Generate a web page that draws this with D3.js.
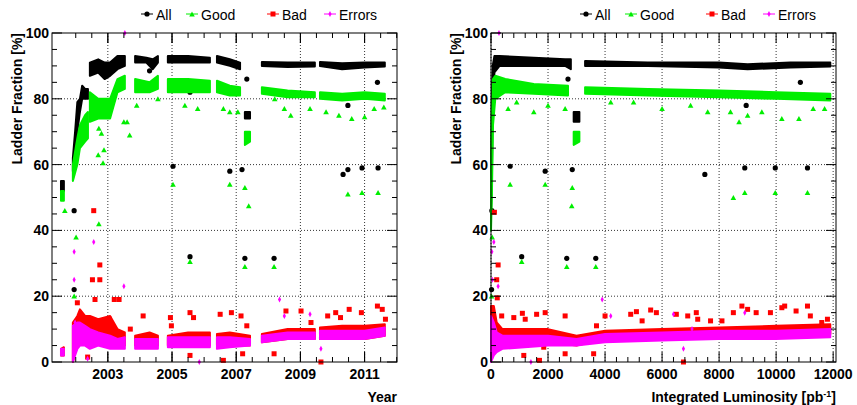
<!DOCTYPE html>
<html><head><meta charset="utf-8">
<script src="https://cdn.jsdelivr.net/npm/d3@7.9.0/dist/d3.min.js"></script>
<style>body{margin:0;background:#fff}text{font-family:"Liberation Sans",Arial,sans-serif;font-weight:bold}text.leg{font-weight:normal}</style>
</head><body><svg id="c" width="857" height="405"></svg>
<script>
// ---- data: dense bands [x, lo, hi] per run, plus isolated points [x, y]
const yearAll = [
  [[2001.54,52,55],[2001.63,52,55]],
  [[2001.91,58,62],[2001.98,60,70],[2002.05,70,79],[2002.13,76,80],[2002.2,80,84],[2002.29,80,83],[2002.38,80,83]],
  [[2002.44,87,91],[2002.7,88,92],[2002.9,86,91],[2003.07,87,91],[2003.3,89,93],[2003.53,90,93]],
  [[2003.85,91,93],[2004.2,91,92.5],[2004.4,89,92],[2004.56,91,93]],
  [[2004.87,91,93],[2005.5,91,93],[2006.18,91,92.5]],
  [[2006.4,91,93],[2006.8,90,92],[2007.12,89,91]],
  [[2007.27,74,76],[2007.43,74,76]],
  [[2007.8,90,91.2],[2008.6,89.7,91],[2009.45,89.8,91]],
  [[2009.61,90,91.2],[2010.3,89,90.8],[2011,89.5,91],[2011.63,89.8,91]]
];
const yearGood = [
  [[2001.54,49,52],[2001.63,49,52]],
  [[2001.91,55,60],[2002.05,60,68],[2002.13,65,72],[2002.29,67,75],[2002.38,68,76]],
  [[2002.44,73,82],[2002.7,74,80],[2003.07,74,80],[2003.3,82,86],[2003.53,83,87]],
  [[2003.85,82,86],[2004.3,82,85],[2004.56,83,87]],
  [[2004.87,82,86],[2005.5,82,86],[2006.18,82,85.5]],
  [[2006.4,82,85.5],[2006.8,81,84],[2007.12,81,83.5]],
  [[2007.27,66,70],[2007.43,67,70]],
  [[2007.8,81.5,83.5],[2008.6,80.5,82.5],[2009.45,80.5,82]],
  [[2009.61,80,82],[2010.3,79.5,81.5],[2011,80,82],[2011.63,79.5,81.5]]
];
const yearBad = [
  [[2001.54,2,4],[2001.63,2,4.5]],
  [[2001.91,0,12],[2002.05,6,14],[2002.13,8,16],[2002.29,9,14],[2002.44,8,14],[2002.7,7,13],[2003.07,6,14],[2003.3,5,10],[2003.53,5,9]],
  [[2003.85,5,8],[2004.3,5,9],[2004.56,5,8]],
  [[2004.87,5,8],[2005.5,5,9],[2006.18,5,9]],
  [[2006.4,5,8.5],[2006.8,5,9],[2007.43,5,8]],
  [[2007.8,6,8.5],[2008.6,7,10],[2009.45,7,10]],
  [[2009.61,7,10.5],[2010.3,7,11],[2011,7,11],[2011.63,8,11.5]]
];
const yearErr = [
  [[2001.54,2,4],[2001.63,2,4]],
  [[2001.91,0,11],[2002.05,4,12],[2002.13,5,12],[2002.29,5,11],[2002.44,4,10],[2002.7,5,9],[2003.07,4,8],[2003.3,4,7],[2003.53,4,7.5]],
  [[2003.85,4,7],[2004.3,4,7],[2004.56,4,7]],
  [[2004.87,4.5,7.5],[2005.5,4.5,7.5],[2006.18,4.5,7.5]],
  [[2006.4,4,7.5],[2006.8,4.5,7.5],[2007.43,5,7]],
  [[2007.8,6,8],[2008.6,7,9],[2009.45,7,9]],
  [[2009.61,7,9.5],[2010.3,7,9.5],[2011,7,9.5],[2011.63,8,10.5]]
];
const yearAllPts = [[2001.95,46],[2001.95,22],[2005.03,59.5],[2006.8,58],[2007.18,58.5],[2010.33,57],[2010.48,58.5],[2010.92,59],[2011.42,59],[2011.4,85],[2005.56,82],[2007.33,86],[2010.48,78],[2005.56,32],[2007.27,31.5],[2008.18,31.5],[2004.3,88.5]];
const yearGoodPts = [[2005.03,54],[2006.8,54],[2007.27,53],[2010.92,51.5],[2011.42,51.5],[2010.48,51],[2005.56,30.5],[2007.27,29],[2008.18,29],[2007.39,47.5],[2003.5,73],[2003.6,73],[2003.68,69],[2002.85,60.5],[2002.7,63],[2002.88,64.5],[2002.72,71],[2002.8,69.5],[2001.95,20],[2002.01,38],[2001.66,46],[2002.72,42],[2003.9,78],[2004.56,80],[2005.4,78],[2005.8,77],[2006.6,77],[2006.8,76],[2007.05,76],[2008.2,80],[2008.5,77],[2008.7,75],[2009.3,77],[2009.8,76],[2010.2,75],[2010.6,74],[2011,74.5],[2011.3,77],[2011.6,77.5]];
const yearBadPts = [[2002.56,46],[2002.52,25],[2002.75,29.5],[2002.75,25],[2002.6,19],[2003.2,19],[2003.35,19],[2004.1,14],[2004.95,13.5],[2004.98,11],[2005.56,15],[2005.67,13.5],[2005.56,2],[2006.5,14.5],[2006.85,15],[2007.15,14],[2007.2,2.5],[2007.33,11],[2008.18,2.5],[2008.55,15.5],[2009.02,15.5],[2009.33,12],[2009.85,14],[2010.1,15],[2010.52,16],[2010.9,15],[2011.4,17],[2011.55,16],[2011.65,13],[2009.64,0],[2010.25,13.5],[2002.37,1.5],[2006.6,0.5],[2002.05,18],[2003.05,13],[2003.7,10]];
const yearErrPts = [[2003.53,100],[2001.95,33.5],[2001.95,25],[2002.56,36.5],[2003.5,23],[2008.35,19],[2009.3,14.5],[2008.5,14],[2009.64,4],[2005.85,0],[2002.37,1],[2001.98,12]];

const lumAll = [
  [[0,45,60],[30,55,80],[60,80,90],[120,88,93],[300,90,93],[1500,90,92.5],[2600,90,92],[2800,89,92]],
  [[2900,73,76],[3100,73,76]],
  [[3300,90,91.5],[5500,90,91],[8000,89.5,91],[9000,89,90.5],[10500,89.5,91],[11900,89.8,91]]
];
const lumGood = [
  [[0,40,55],[30,50,75],[70,72,86],[150,80,87],[500,82,86],[1500,81.5,84.5],[2700,81,84]],
  [[2900,66,70],[3100,67,70]],
  [[3300,81.5,83.5],[5500,81,83],[8000,80.5,82.5],[10000,80,82],[11900,79.5,81.5]]
];
const lumBad = [
  [[0,3,17],[100,6,17],[200,6,12],[400,6,10],[2000,6,10],[3000,5,8],[4000,7,9.5],[6000,7.5,10],[8000,8,10.5],[10000,8,11],[11900,8.5,11.5]]
];
const lumErr = [
  [[0,0,14],[100,2,12],[200,3,9],[400,4,8],[2000,5,8],[3000,5,7],[4000,6,8.5],[6000,6.5,9],[8000,7,9.5],[10000,7,9.5],[11900,7.5,10]]
];
const lumAllPts = [[1077,32],[2657,31.5],[3675,31.5],[670,59.5],[1900,58],[2850,58.5],[7500,57],[8900,59],[9970,59],[11100,59],[10850,85],[2700,86],[8950,78],[1800,82],[20,22],[30,46]];
const lumGoodPts = [[1077,30.5],[2657,29],[3675,29],[2832,47.5],[670,54],[1900,54],[2850,53],[8900,51.5],[9970,51.5],[11100,51.5],[8500,50],[600,77],[900,79],[1500,76],[2000,78],[2600,77],[4200,79],[5000,79],[6000,77],[7000,78],[7600,76],[8400,76],[8700,73],[9000,75],[9500,76],[10200,74],[10800,74],[11300,77],[11700,77],[20,20],[40,38]];
const lumBadPts = [[375,14],[800,13.5],[1100,14.8],[1200,13],[1600,14.5],[1900,15],[2600,14],[3700,11],[4000,14],[4900,14.5],[5100,15.3],[5300,12.5],[5600,15.8],[5800,15],[6500,14.5],[6900,14],[7200,15],[7250,13],[7700,12.5],[8100,12.5],[8500,15],[8800,17],[9000,16],[9300,15],[9800,15],[10200,16.5],[10300,17],[10700,15.5],[11100,17],[11200,14],[11600,12],[11800,13],[1150,2],[2600,2.5],[3600,2.5],[6750,0],[1700,0.5],[1850,4.5],[250,29.5],[200,25],[220,19.5],[120,45.5]];
const lumErrPts = [[30,33.5],[100,36.5],[250,23],[3900,19],[4200,14],[6400,14.5],[6750,4],[1400,0],[7050,10],[8900,15],[50,25],[280,100]];

const legendNames = ['All', 'Good', 'Bad', 'Errors'];
const colors = ['#000000', '#00ee00', '#ff0000', '#ff00ff'];

const svg = d3.select('#c');
const y = d3.scaleLinear().domain([0, 100]).range([362, 33]);

function marker(g, kind, x0, y0, col) {
  if (kind === 0) g.append('circle').attr('cx', x0).attr('cy', y0).attr('r', 2.6).attr('fill', col);
  else if (kind === 1) g.append('path').attr('d', `M${x0-2.8},${y0+2.4}L${x0+2.8},${y0+2.4}L${x0},${y0-2.6}Z`).attr('fill', col);
  else if (kind === 2) g.append('rect').attr('x', x0-2.5).attr('y', y0-2.5).attr('width', 5).attr('height', 5).attr('fill', col);
  else g.append('path').attr('d', `M${x0},${y0-3}L${x0+1.6},${y0}L${x0},${y0+3}L${x0-1.6},${y0}Z`).attr('fill', col);
}

function panel(left, x, bands, pts, ticks, minor, fmt, title, legX) {
  const g = svg.append('g');
  // grid
  g.selectAll('.gx').data(ticks).join('line')
    .attr('x1', d => x(d)).attr('x2', d => x(d)).attr('y1', 33).attr('y2', 362)
    .attr('stroke', '#000').attr('stroke-dasharray', '1,2').attr('stroke-width', 0.8);
  g.selectAll('.gy').data([20, 40, 60, 80]).join('line')
    .attr('x1', left).attr('x2', left + 345).attr('y1', d => y(d)).attr('y2', d => y(d))
    .attr('stroke', '#000').attr('stroke-dasharray', '1,2').attr('stroke-width', 0.8);
  // bands
  const area = d3.area().x(d => x(d[0])).y0(d => y(d[1])).y1(d => y(d[2]));
  bands.forEach((runs, i) => {
    runs.forEach(run => {
      g.append('path').datum(run).attr('d', area).attr('fill', colors[i])
        .attr('stroke', colors[i]).attr('stroke-width', 2).attr('stroke-linejoin', 'round');
    });
    pts[i].forEach(p => marker(g, i, x(p[0]), y(p[1]), colors[i]));
  });
  // frame
  g.append('rect').attr('x', left).attr('y', 33).attr('width', 345).attr('height', 329)
    .attr('fill', 'none').attr('stroke', '#000').attr('stroke-width', 1);
  // ticks
  g.selectAll('.tx').data(minor).join('line')
    .attr('x1', d => x(d)).attr('x2', d => x(d)).attr('y1', 362).attr('y2', d => ticks.includes(d) ? 352 : 357)
    .attr('stroke', '#000');
  g.selectAll('.txt').data(minor).join('line')
    .attr('x1', d => x(d)).attr('x2', d => x(d)).attr('y1', 33).attr('y2', d => ticks.includes(d) ? 43 : 38)
    .attr('stroke', '#000');
  const yt = d3.range(0, 101, 5);
  [[left, 1], [left + 345, -1]].forEach(([x0, s]) => {
    g.selectAll(null).data(yt).join('line')
      .attr('x1', x0).attr('x2', d => x0 + s * (d % 20 === 0 ? 10 : 5)).attr('y1', d => y(d)).attr('y2', d => y(d))
      .attr('stroke', '#000');
  });
  g.selectAll('.xl').data(ticks).join('text')
    .attr('x', d => x(d)).attr('y', 379).attr('text-anchor', 'middle').attr('font-size', 14).text(fmt);
  g.selectAll('.yl').data([0, 20, 40, 60, 80, 100]).join('text')
    .attr('x', left - 3).attr('y', d => y(d) + 5).attr('text-anchor', 'end').attr('font-size', 14).text(d => d);
  const tt = g.append('text').attr('x', left + 345).attr('y', 402).attr('text-anchor', 'end').attr('font-size', 14);
  if (title === 'lum') {
    tt.text('Integrated Luminosity [pb');
    tt.append('tspan').attr('dy', -5).attr('font-size', 9).text('-1');
    tt.append('tspan').attr('dy', 5).text(']');
  } else tt.text(title);
  g.append('text').attr('transform', `translate(${left - 30},33) rotate(-90)`)
    .attr('text-anchor', 'end').attr('font-size', 14).text('Ladder Fraction [%]');
  // legend
  const lx = [legX, legX + 45, legX + 126, legX + 183];
  legendNames.forEach((n, i) => {
    g.append('line').attr('x1', lx[i] - 6).attr('x2', lx[i] + 6).attr('y1', 14).attr('y2', 14).attr('stroke', colors[i]);
    marker(g, i, lx[i], 14, colors[i]);
    g.append('text').attr('class', 'leg').attr('x', lx[i] + 9).attr('y', 20).attr('font-size', 14).text(n);
  });
}

const xYear = d3.scaleLinear().domain([2001.26, 2012.01]).range([52, 397]);
panel(52, xYear, [yearAll, yearGood, yearBad, yearErr], [yearAllPts, yearGoodPts, yearBadPts, yearErrPts],
  [2003, 2005, 2007, 2009, 2011], d3.range(2002, 2012.01, 0.5).concat([2003,2005,2007,2009,2011]), d => d, 'Year', 147);

const xLum = d3.scaleLinear().domain([0, 12100]).range([491, 836]);
panel(491, xLum, [lumAll, lumGood, lumBad, lumErr], [lumAllPts, lumGoodPts, lumBadPts, lumErrPts],
  [0, 2000, 4000, 6000, 8000, 10000, 12000], d3.range(0, 12001, 400), d => d, 'lum', 586);
</script></body></html>
